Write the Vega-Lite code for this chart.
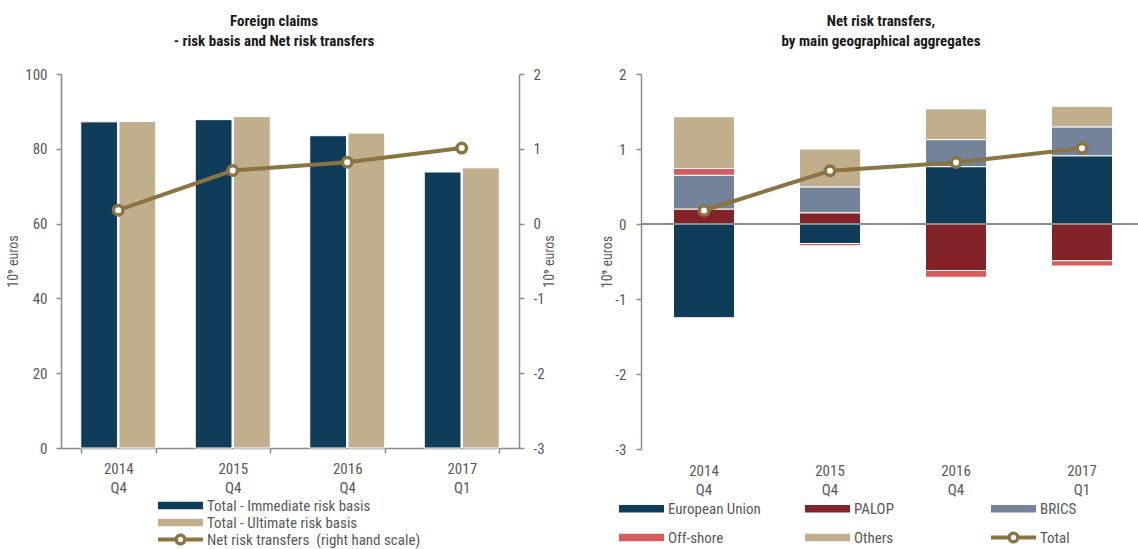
{
  "$schema": "https://vega.github.io/schema/vega-lite/v6.json",
  "background": "white",
  "padding": {"left": 6, "top": 14, "right": 0, "bottom": 6},
  "spacing": 43,
  "config": {
    "font": "Liberation Sans Narrow, Roboto Condensed, Liberation Sans, Arial, sans-serif",
    "view": {"stroke": null},
    "axis": {
      "labelFontSize": 15,
      "labelColor": "#595959",
      "titleFontSize": 14,
      "titleFontWeight": "normal",
      "titleColor": "#595959",
      "domainColor": "#8c8c8c",
      "tickColor": "#8c8c8c",
      "domainWidth": 1.5,
      "tickWidth": 1.5,
      "grid": false
    },
    "legend": {
      "labelFontSize": 15,
      "labelColor": "#595959",
      "labelLimit": 400,
      "padding": 0,
      "symbolStrokeWidth": 0,
      "symbolOpacity": 1
    },
    "title": {
      "fontSize": 15,
      "fontWeight": "bold",
      "color": "#1a1a1a",
      "lineHeight": 20
    }
  },
  "resolve": {"scale": {"color": "independent"}, "legend": {"color": "independent"}},
  "hconcat": [
    {
      "width": 458,
      "height": 374,
      "title": {"text": ["Foreign claims", "- risk basis and Net risk transfers"], "offset": 18, "dx": -16},
      "layer": [
        {
          "data": {"values": [
            {"period": "2014 Q4", "series": "Total - Immediate risk basis", "value": 87.2},
            {"period": "2014 Q4", "series": "Total - Ultimate risk basis", "value": 87.3},
            {"period": "2015 Q4", "series": "Total - Immediate risk basis", "value": 87.8},
            {"period": "2015 Q4", "series": "Total - Ultimate risk basis", "value": 88.6},
            {"period": "2016 Q4", "series": "Total - Immediate risk basis", "value": 83.5},
            {"period": "2016 Q4", "series": "Total - Ultimate risk basis", "value": 84.2},
            {"period": "2017 Q1", "series": "Total - Immediate risk basis", "value": 73.8},
            {"period": "2017 Q1", "series": "Total - Ultimate risk basis", "value": 74.9}
          ]},
          "mark": {"type": "bar", "stroke": "white", "strokeWidth": 1},
          "encoding": {
            "x": {
              "field": "period", "type": "nominal", "sort": null,
              "scale": {"paddingInner": 0.345, "paddingOuter": 0.1725},
              "axis": {"title": null, "labelAngle": 0, "labelExpr": "split(datum.label, ' ')", "tickBand": "extent", "tickSize": 5, "labelPadding": 8, "labelLineHeight": 19}
            },
            "xOffset": {"field": "series", "type": "nominal", "sort": null, "scale": {"paddingInner": 0.04}},
            "y": {
              "field": "value", "type": "quantitative", "title": "10⁹ euros",
              "scale": {"domain": [0, 100], "nice": false},
              "axis": {"values": [0, 20, 40, 60, 80, 100], "tickSize": 5, "labelPadding": 9}
            },
            "color": {
              "field": "series", "type": "nominal",
              "scale": {
                "domain": ["Total - Immediate risk basis", "Total - Ultimate risk basis", "Net risk transfers\u00a0 (right hand scale)"],
                "range": ["#0e3c59", "#c1ae8d", "#8b7441"]
              },
              "legend": {
                "orient": "none", "legendX": 112, "legendY": 424, "direction": "vertical", "title": null,
                "symbolSize": 81, "labelOffset": 19, "rowPadding": 1, "symbolStrokeWidth": 0,
                "symbolType": {"expr": "(datum.value === 'Total - Immediate risk basis' || datum.value === 'Total - Ultimate risk basis') ? 'M-5,-0.85H5V0.85H-5Z' : 'M-5,-0.42H-1.25V0.42H-5ZM1.25,-0.42H5V0.42H1.25ZM-1.35,0A1.35,1.35,0,1,1,1.35,0A1.35,1.35,0,1,1,-1.35,0ZM-0.6,0A0.6,0.6,0,1,0,0.6,0A0.6,0.6,0,1,0,-0.6,0Z'"}
              }
            }
          }
        },
        {
          "data": {"values": [
            {"period": "2014 Q4", "series": "Net risk transfers\u00a0 (right hand scale)", "nrt": 0.18},
            {"period": "2015 Q4", "series": "Net risk transfers\u00a0 (right hand scale)", "nrt": 0.71},
            {"period": "2016 Q4", "series": "Net risk transfers\u00a0 (right hand scale)", "nrt": 0.82},
            {"period": "2017 Q1", "series": "Net risk transfers\u00a0 (right hand scale)", "nrt": 1.01}
          ]},
          "layer": [
            {
              "mark": {"type": "line", "strokeWidth": 4},
              "encoding": {
                "x": {"field": "period", "type": "nominal", "sort": null},
                "y": {
                  "field": "nrt", "type": "quantitative", "title": "10⁹ euros",
                  "scale": {"domain": [-3, 2], "nice": false},
                  "axis": {"orient": "right", "values": [-3, -2, -1, 0, 1, 2], "labelExpr": "'' + datum.value", "tickSize": 5, "labelPadding": 9, "titleAngle": 270, "titlePadding": 12}
                },
                "color": {"field": "series", "type": "nominal"}
              }
            },
            {
              "mark": {"type": "circle", "fill": "#ffffff", "stroke": "#8b7441", "strokeWidth": 3.5, "size": 90, "opacity": 1},
              "encoding": {
                "x": {"field": "period", "type": "nominal", "sort": null},
                "y": {
                  "field": "nrt", "type": "quantitative", "title": "10⁹ euros",
                  "scale": {"domain": [-3, 2], "nice": false},
                  "axis": {"orient": "right", "values": [-3, -2, -1, 0, 1, 2], "labelExpr": "'' + datum.value", "tickSize": 5, "labelPadding": 9, "titleAngle": 270, "titlePadding": 12}
                }
              }
            }
          ]
        }
      ],
      "resolve": {"scale": {"y": "independent"}}
    },
    {
      "width": 504,
      "height": 375,
      "title": {"text": ["Net risk transfers,", "by main geographical aggregates"], "offset": 18, "dx": -12},
      "layer": [
        {
          "data": {"values": [
            {"period": "2014 Q4", "region": "European Union", "k": 1, "value": -1.25},
            {"period": "2014 Q4", "region": "PALOP", "k": 2, "value": 0.2},
            {"period": "2014 Q4", "region": "BRICS", "k": 3, "value": 0.45},
            {"period": "2014 Q4", "region": "Off-shore", "k": 4, "value": 0.09},
            {"period": "2014 Q4", "region": "Others", "k": 5, "value": 0.69},
            {"period": "2015 Q4", "region": "European Union", "k": 1, "value": -0.26},
            {"period": "2015 Q4", "region": "PALOP", "k": 2, "value": 0.15},
            {"period": "2015 Q4", "region": "BRICS", "k": 3, "value": 0.345},
            {"period": "2015 Q4", "region": "Off-shore", "k": 4, "value": -0.03},
            {"period": "2015 Q4", "region": "Others", "k": 5, "value": 0.505},
            {"period": "2016 Q4", "region": "European Union", "k": 1, "value": 0.765},
            {"period": "2016 Q4", "region": "PALOP", "k": 2, "value": -0.62},
            {"period": "2016 Q4", "region": "BRICS", "k": 3, "value": 0.36},
            {"period": "2016 Q4", "region": "Off-shore", "k": 4, "value": -0.09},
            {"period": "2016 Q4", "region": "Others", "k": 5, "value": 0.41},
            {"period": "2017 Q1", "region": "European Union", "k": 1, "value": 0.91},
            {"period": "2017 Q1", "region": "PALOP", "k": 2, "value": -0.49},
            {"period": "2017 Q1", "region": "BRICS", "k": 3, "value": 0.385},
            {"period": "2017 Q1", "region": "Off-shore", "k": 4, "value": -0.07},
            {"period": "2017 Q1", "region": "Others", "k": 5, "value": 0.275}
          ]},
          "mark": {"type": "bar", "stroke": "white", "strokeWidth": 1},
          "encoding": {
            "x": {
              "field": "period", "type": "nominal", "sort": null,
              "scale": {"paddingInner": 0.516, "paddingOuter": 0.258},
              "axis": {"title": null, "labelAngle": 0, "labelExpr": "split(datum.label, ' ')", "domain": false, "ticks": false, "labelPadding": 14, "labelLineHeight": 19}
            },
            "y": {
              "field": "value", "type": "quantitative", "stack": "zero", "title": "10⁹ euros",
              "scale": {"domain": [-3, 2], "nice": false},
              "axis": {"values": [-3, -2, -1, 0, 1, 2], "labelExpr": "'' + datum.value", "tickSize": 5, "labelPadding": 10, "titlePadding": 0}
            },
            "order": {"field": "k", "type": "quantitative"},
            "color": {
              "field": "region", "type": "nominal",
              "scale": {
                "domain": ["European Union", "PALOP", "BRICS", "Off-shore", "Others", "Total"],
                "range": ["#0e3c59", "#832327", "#72839a", "#d55b5c", "#c1ae8d", "#8b7441"]
              },
              "legend": {
                "orient": "none", "legendX": -7, "legendY": 427, "direction": "horizontal", "columns": 3, "gridAlign": "all", "title": null,
                "symbolSize": 81, "labelOffset": 19, "rowPadding": 13, "columnPadding": 44, "symbolStrokeWidth": 0,
                "symbolType": {"expr": "datum.value === 'Total' ? 'M-5,-0.42H-1.25V0.42H-5ZM1.25,-0.42H5V0.42H1.25ZM-1.35,0A1.35,1.35,0,1,1,1.35,0A1.35,1.35,0,1,1,-1.35,0ZM-0.6,0A0.6,0.6,0,1,0,0.6,0A0.6,0.6,0,1,0,-0.6,0Z' : 'M-5,-0.85H5V0.85H-5Z'"}
              }
            }
          }
        },
        {
          "data": {"values": [{}]},
          "mark": {"type": "rule", "color": "#8c8c8c", "strokeWidth": 2},
          "encoding": {"y": {"datum": 0, "type": "quantitative"}}
        },
        {
          "data": {"values": [
            {"period": "2014 Q4", "region": "Total", "total": 0.18},
            {"period": "2015 Q4", "region": "Total", "total": 0.71},
            {"period": "2016 Q4", "region": "Total", "total": 0.82},
            {"period": "2017 Q1", "region": "Total", "total": 1.01}
          ]},
          "layer": [
            {
              "mark": {"type": "line", "strokeWidth": 4},
              "encoding": {
                "x": {"field": "period", "type": "nominal", "sort": null},
                "y": {"field": "total", "type": "quantitative", "title": "10⁹ euros"},
                "color": {"field": "region", "type": "nominal"}
              }
            },
            {
              "mark": {"type": "circle", "fill": "#ffffff", "stroke": "#8b7441", "strokeWidth": 3.5, "size": 90, "opacity": 1},
              "encoding": {
                "x": {"field": "period", "type": "nominal", "sort": null},
                "y": {"field": "total", "type": "quantitative", "title": "10⁹ euros"}
              }
            }
          ]
        }
      ]
    }
  ]
}
